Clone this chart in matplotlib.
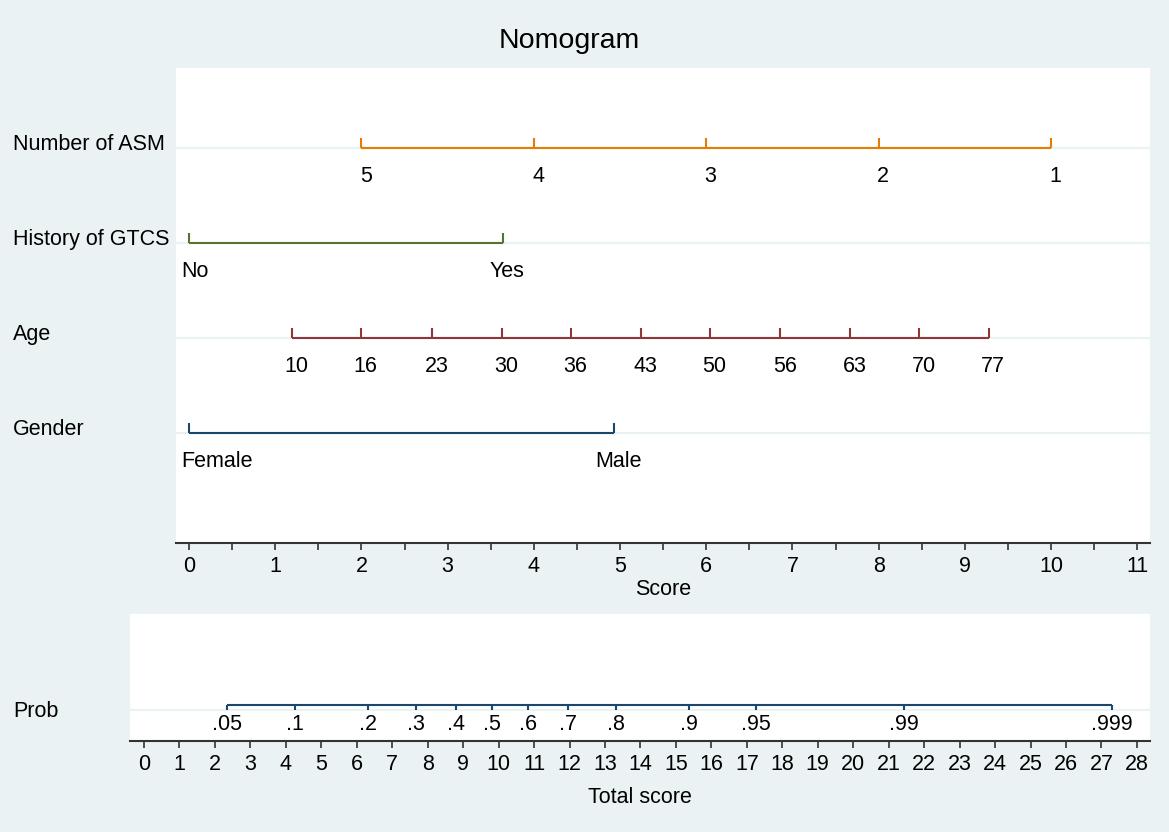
import matplotlib
matplotlib.use("Agg")
import matplotlib.pyplot as plt
from matplotlib.transforms import blended_transform_factory

plt.rcParams['font.family'] = ['Liberation Sans', 'DejaVu Sans']

# -------- data
var_names = ['Number of ASM', 'History of GTCS', 'Age', 'Gender']
asm_labels = ['5', '4', '3', '2', '1']
asm_scores = [2.0, 4.0, 6.0, 8.0, 10.0]
gtcs_labels = ['No', 'Yes']
gtcs_scores = [0.0, 3.64]
age_labels = ['10', '16', '23', '30', '36', '43', '50', '56', '63', '70', '77']
age_scores = [1.19, 2.0, 2.82, 3.63, 4.43, 5.24, 6.04, 6.86, 7.67, 8.47, 9.28]
gender_labels = ['Female', 'Male']
gender_scores = [0.0, 4.93]

prob_labels = ['.05', '.1', '.2', '.3', '.4', '.5', '.6', '.7', '.8', '.9', '.95', '.99', '.999']
prob_scores = [2.35, 4.26, 6.32, 7.66, 8.80, 9.80, 10.83, 11.96, 13.32, 15.37, 17.26, 21.43, 27.29]

score_ticks = list(range(0, 12))
total_ticks = list(range(0, 29))

colors = ['#E37E00', '#55752F', '#90353B', '#1A476F']
bg = '#EAF2F3'
axcol = '#333333'
fs = 15.5

rows = [(asm_labels, asm_scores), (gtcs_labels, gtcs_scores),
        (age_labels, age_scores), (gender_labels, gender_scores)]

W, H = 1169, 832
fig = plt.figure(figsize=(W / 100, H / 100), dpi=100, facecolor=bg)

# -------- top panel: points per predictor
ax = fig.add_axes([176 / W, 1 - 543 / H, 974 / W, 475 / H])
ax.set_facecolor('white')
ax.set_xlim(-0.151, 11.148)
ax.set_ylim(4.158, -0.842)
tr = blended_transform_factory(fig.transFigure, ax.transData)
for i, (labs, xs) in enumerate(rows):
    ax.axhline(i, color=bg, lw=1.6, zorder=1)
    ax.plot([xs[0], xs[-1]], [i, i], color=colors[i], lw=1.5, zorder=3,
            solid_capstyle='butt')
    ax.vlines(xs, i - 0.105, i, color=colors[i], lw=1.5, zorder=3)
    for lab, x in zip(labs, xs):
        if x == 0:
            ax.text(x - 0.09, i + 0.19, lab, ha='left', va='top', fontsize=fs)
        else:
            ax.text(x + 0.05, i + 0.19, lab, ha='center', va='top', fontsize=fs)
    ax.text(13 / W, i + 0.02, var_names[i], transform=tr, ha='left',
            va='baseline', fontsize=fs, clip_on=False)

for s in ['top', 'left', 'right']:
    ax.spines[s].set_visible(False)
ax.spines['bottom'].set_color(axcol)
ax.spines['bottom'].set_linewidth(1.5)
ax.set_yticks([])
ax.set_xticks(score_ticks)
ax.set_xticks([t + 0.5 for t in score_ticks[:-1]], minor=True)
ax.tick_params(axis='x', which='both', length=5, width=1.2, color=axcol,
               labelsize=fs, pad=4)
ax.set_xlabel('Score', fontsize=fs, labelpad=2)

# -------- bottom panel: probability scale
ax2 = fig.add_axes([130 / W, 1 - 741 / H, 1020 / W, 127 / H])
ax2.set_facecolor('white')
ax2.set_xlim(-0.395, 28.37)
ax2.set_ylim(0.326, -1.0105)
tr2 = blended_transform_factory(fig.transFigure, ax2.transData)
ax2.axhline(0, color=bg, lw=1.6, zorder=1)
ax2.plot([prob_scores[0], prob_scores[-1]], [-0.053, -0.053], color=colors[3],
         lw=1.5, zorder=3, solid_capstyle='butt')
ax2.vlines(prob_scores, -0.053, 0, color=colors[3], lw=1.5, zorder=3)
for lab, x in zip(prob_labels, prob_scores):
    ax2.text(x, 0.04, lab, ha='center', va='top', fontsize=fs)
ax2.text(13 / W, 0.074, 'Prob', transform=tr2, ha='left', va='baseline',
         fontsize=fs, clip_on=False)

for s in ['top', 'left', 'right']:
    ax2.spines[s].set_visible(False)
ax2.spines['bottom'].set_color(axcol)
ax2.spines['bottom'].set_linewidth(1.5)
ax2.set_yticks([])
ax2.set_xticks(total_ticks)
ax2.tick_params(axis='x', length=5, width=1.2, color=axcol, labelsize=fs, pad=4)
ax2.set_xlabel('Total score', fontsize=fs, labelpad=9)

fig.text(569 / W, 1 - 41 / H, 'Nomogram', ha='center', va='center', fontsize=20.5)

fig.savefig('out.png', dpi=100, facecolor=bg)
